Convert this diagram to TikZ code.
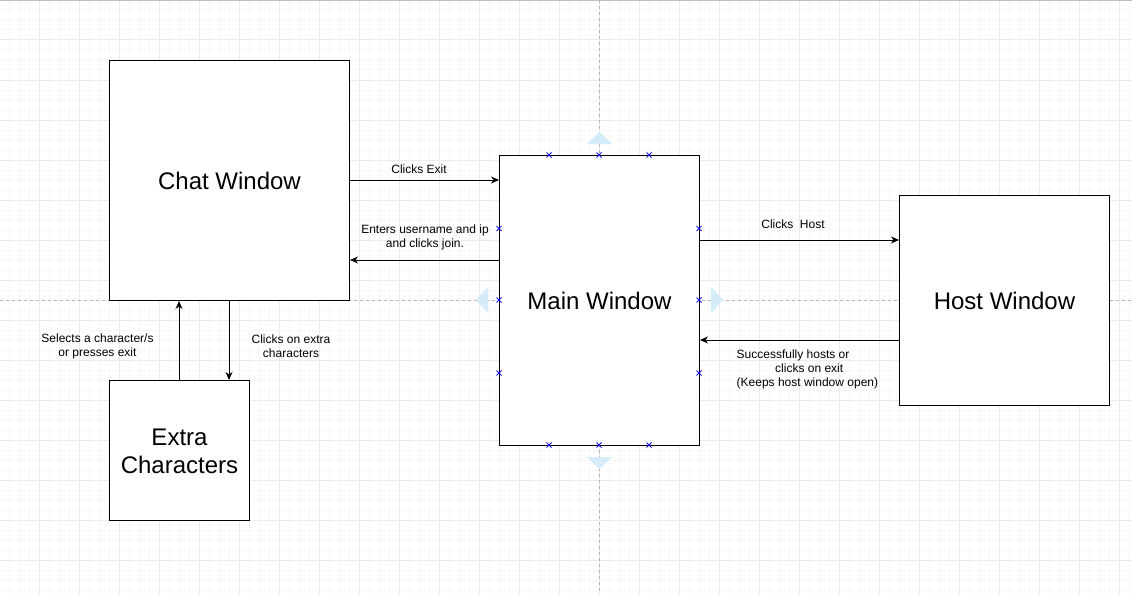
\documentclass[tikz,border=0pt]{standalone}
\usepackage{fontspec}
\setmainfont{Liberation Sans}
\usetikzlibrary{arrows.meta}
\definecolor{gminor}{RGB}{247,247,247}
\definecolor{gmajor}{RGB}{235,235,235}
\definecolor{guidegray}{RGB}{180,180,180}
\definecolor{hintblue}{RGB}{212,236,248}
\definecolor{markblue}{RGB}{20,20,230}
\tikzset{
  win/.style={draw=black, line width=1pt, fill=white, anchor=north west, inner sep=0pt, align=center,
              font=\fontsize{24}{28}\selectfont},
  lbl/.style={font=\fontsize{12}{14}\selectfont, align=center, inner sep=0pt},
  conn/.style={line width=1pt, -{Stealth[length=8pt,width=7pt,inset=2.5pt]}},
  guideline/.style={draw=guidegray, line width=0.8pt, dash pattern=on 3pt off 3pt},
  hinttri/.style={fill=hintblue, draw=none},
  xmarkst/.style={draw=markblue, line width=0.8pt}
}
\newcommand{\xm}[2]{\draw[xmarkst] (#1-2.5,#2-2.5) -- (#1+2.5,#2+2.5) (#1-2.5,#2+2.5) -- (#1+2.5,#2-2.5);}
\begin{document}
\begin{tikzpicture}[x=1pt,y=-1pt]
\useasboundingbox (0,0) rectangle (1132,594);
\fill[white] (0,0) rectangle (1132,594);
% grid
\foreach \i in {0,...,113} {\draw[gminor, line width=1pt] (\i*10-0.5,0) -- (\i*10-0.5,594);}
\foreach \j in {0,...,59} {\draw[gminor, line width=1pt] (0,\j*10) -- (1132,\j*10);}
\foreach \i in {0,...,28} {\draw[gmajor, line width=1pt] (\i*40-0.5,0) -- (\i*40-0.5,594);}
\foreach \j in {0,...,14} {\draw[gmajor, line width=1pt] (0,\j*40) -- (1132,\j*40);}
\draw[gray!50, line width=1.5pt] (0,0.5) -- (1132,0.5);
% guides
\draw[guideline] (599.5,0) -- (599.5,594);
\draw[guideline] (0,300) -- (1132,300);
% hint triangles
\fill[hinttri] (587,144) -- (612,144) -- (599.5,132) -- cycle;
\fill[hinttri] (587,457) -- (612,457) -- (599.5,469) -- cycle;
\fill[hinttri] (488,287) -- (488,313) -- (476,300) -- cycle;
\fill[hinttri] (711,287) -- (711,313) -- (723,300) -- cycle;
% windows
\node[win, minimum width=240pt, minimum height=240pt] (chat) at (109,60) {};
\node at (chat.center) [font=\fontsize{24}{28}\selectfont] (chatl) {Chat Window};
\node[win, minimum width=200pt, minimum height=290pt] (main) at (499,155) {};
\node at (main.center) [font=\fontsize{24}{28}\selectfont] (mainl) {Main Window};
\node[win, minimum width=210pt, minimum height=210pt] (host) at (899,195) {};
\node at (host.center) [font=\fontsize{24}{28}\selectfont] (hostl) {Host Window};
\node[win, minimum width=140pt, minimum height=140pt] (extra) at (109,380) {};
\node at ([yshift=-1pt]extra.center) [font=\fontsize{24}{28}\selectfont, align=center] (extral) {Extra\\Characters};
% selection markers
\xm{549}{155}\xm{599}{155}\xm{649}{155}
\xm{549}{445}\xm{599}{445}\xm{649}{445}
\xm{499}{228.5}\xm{499}{300}\xm{499}{373}
\xm{699}{228.5}\xm{699}{300}\xm{699}{373}
% connectors
\draw[conn] (chat.east |- 0,180) -- (main.west |- 0,180);
\draw[conn] (main.west |- 0,260) -- (chat.east |- 0,260);
\draw[conn] (main.east |- 0,240) -- (host.west |- 0,240);
\draw[conn] (host.west |- 0,340) -- (main.east |- 0,340);
\draw[conn] (chat.south -| 229,0) -- (extra.north -| 229,0);
\draw[conn] (extra.north -| 179,0) -- (chat.south -| 179,0);
% labels
\node[lbl] (l1) at (419,169.5) {Clicks Exit};
\node[lbl] (l2) at (425,237) {Enters username and ip\\and clicks join.};
\node[lbl] (l3) at (793,224.5) {Clicks\ \ Host};
\node[lbl, align=left, anchor=west] (l4) at (736.5,369) {Successfully hosts or\\\hspace*{38.5pt}clicks on exit\\(Keeps host window open)};
\node[lbl] (l5) at (97.5,346.5) {Selects a character/s\\or presses exit};
\node[lbl] (l6) at (291,346.5) {Clicks on extra\\characters};
\end{tikzpicture}
\end{document}
